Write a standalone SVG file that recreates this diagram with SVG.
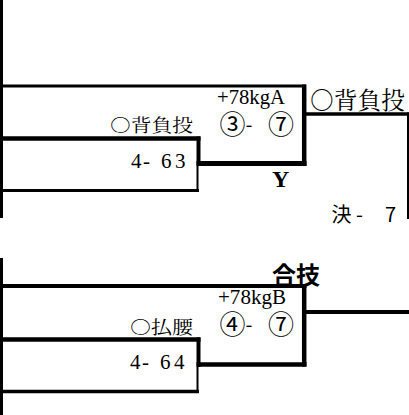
<svg xmlns="http://www.w3.org/2000/svg" width="409" height="415" viewBox="0 0 409 415">
<style>
.ln{stroke:#000;fill:none;stroke-linecap:butt}
.serif{font-family:"Liberation Serif","Noto Serif CJK JP","Noto Sans CJK JP",serif;fill:#000}
.jp{font-family:"Noto Sans CJK JP",sans-serif;fill:#000}
.mincho{font-family:"Noto Serif CJK JP","Noto Sans CJK JP",serif;fill:#000}
.circ{font-size:26px}
.dash{font-size:20px}
</style>
<rect width="409" height="415" fill="#fff"/>
<g id="connectors">
  <line class="ln" x1="1.5" y1="0" x2="1.5" y2="218" stroke-width="3"/>
  <line class="ln" x1="1.5" y1="258" x2="1.5" y2="415" stroke-width="3"/>
  <line class="ln" x1="0" y1="86" x2="306" y2="86" stroke-width="3"/>
  <line class="ln" x1="0" y1="138.5" x2="200.5" y2="138.5" stroke-width="4.5"/>
  <line class="ln" x1="0" y1="190.5" x2="199" y2="190.5" stroke-width="3"/>
  <line class="ln" x1="198.5" y1="136.5" x2="198.5" y2="166" stroke-width="4"/>
  <line class="ln" x1="197.5" y1="166" x2="197.5" y2="192" stroke-width="2"/>
  <line class="ln" x1="196.5" y1="163.5" x2="306.5" y2="163.5" stroke-width="5"/>
  <line class="ln" x1="304.2" y1="84.5" x2="304.2" y2="166" stroke-width="4.5"/>
  <line class="ln" x1="302" y1="114" x2="409" y2="114" stroke-width="3.5"/>
  <line class="ln" x1="408" y1="112.5" x2="408" y2="219" stroke-width="2"/>
  <line class="ln" x1="0" y1="286" x2="306.5" y2="286" stroke-width="4"/>
  <line class="ln" x1="0" y1="339.5" x2="200.5" y2="339.5" stroke-width="4.5"/>
  <line class="ln" x1="0" y1="391.5" x2="199" y2="391.5" stroke-width="3.5"/>
  <line class="ln" x1="198.5" y1="337.5" x2="198.5" y2="367" stroke-width="4"/>
  <line class="ln" x1="197.5" y1="367" x2="197.5" y2="393" stroke-width="2"/>
  <line class="ln" x1="196.5" y1="364.5" x2="306.5" y2="364.5" stroke-width="4.5"/>
  <line class="ln" x1="304.2" y1="284" x2="304.2" y2="366.5" stroke-width="4.5"/>
  <line class="ln" x1="302" y1="312" x2="409" y2="312" stroke-width="4"/>
</g>
<g id="match-a">
  <text class="serif" x="217" y="104" font-size="20.5" textLength="68" lengthAdjust="spacingAndGlyphs">+78kgA</text>
  <text class="jp" y="133.5"><tspan class="circ" x="219.5">③</tspan><tspan class="dash" x="245.5" y="132">- </tspan><tspan class="circ" x="268" y="133.5">⑦</tspan></text>
  <text class="serif" x="272" y="186.5" font-size="24" font-weight="bold">Y</text>
</g>
<g id="entry-a-left">
  <text class="mincho" x="110" y="132" font-size="18" textLength="83" lengthAdjust="spacingAndGlyphs">○背負投</text>
  <text class="serif" x="131 143 152 161 175" y="167.5" font-size="21">4- 63</text>
</g>
<g id="entry-final">
  <text class="mincho" x="310" y="108.5" font-size="24" textLength="95" lengthAdjust="spacingAndGlyphs">○背負投</text>
  <text class="jp" x="331.5 356 370 385" y="222" font-size="20">決- 7</text>
</g>
<g id="match-b">
  <text class="jp" x="272" y="283.5" font-size="24" font-weight="bold">合技</text>
  <text class="serif" x="218" y="303.5" font-size="20.5" textLength="68" lengthAdjust="spacingAndGlyphs">+78kgB</text>
  <text class="jp" y="333.5"><tspan class="circ" x="219.5">④</tspan><tspan class="dash" x="245.5" y="332">- </tspan><tspan class="circ" x="268" y="333.5">⑦</tspan></text>
</g>
<g id="entry-b-left">
  <text class="mincho" x="130" y="333.5" font-size="18" textLength="63" lengthAdjust="spacingAndGlyphs">○払腰</text>
  <text class="serif" x="130 142 151 160 174" y="368.5" font-size="21">4- 64</text>
</g>
</svg>
